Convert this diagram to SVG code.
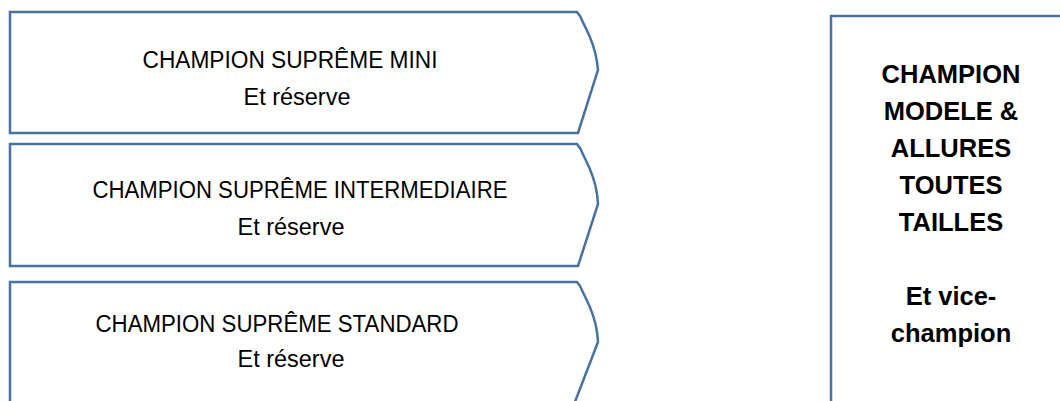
<svg xmlns="http://www.w3.org/2000/svg" width="1060" height="401" viewBox="0 0 1060 401">
<defs>
<style>
.shape{fill:#ffffff;stroke:#4a72a0;stroke-width:2.5;stroke-linejoin:miter}
.t{font-family:"Liberation Sans",Arial,sans-serif;font-size:23px;fill:#000;text-anchor:middle}
.b{font-family:"Liberation Sans",Arial,sans-serif;font-size:25.5px;font-weight:bold;fill:#000;text-anchor:middle}
</style>
</defs>
<rect width="1060" height="401" fill="#ffffff"/>
<g id="connectors"></g>
<g id="node-mini">
<path class="shape" d="M10,12 L577,12 C578,14 580,15 581,18 C585,28 594,40 597,62 L598,70 L578,133 L10,133 Z"/>
<text class="t" x="290" y="68" textLength="295" lengthAdjust="spacingAndGlyphs">CHAMPION SUPRÊME MINI</text>
<text class="t" x="297" y="105" textLength="107" lengthAdjust="spacingAndGlyphs">Et réserve</text>
</g>
<g id="node-intermediaire">
<path class="shape" d="M10,144 L577,144 C578,146 580,147 581,150 C585,160 594,172 597,194 L598,204 L578,266 L10,266 Z"/>
<text class="t" x="300" y="198" textLength="415" lengthAdjust="spacingAndGlyphs">CHAMPION SUPRÊME INTERMEDIAIRE</text>
<text class="t" x="291" y="235" textLength="107" lengthAdjust="spacingAndGlyphs">Et réserve</text>
</g>
<g id="node-standard">
<path class="shape" d="M10,420 L10,282 L577,282 C578,284 580,285 581,288 C585,298 594,310 597,332 L598,342 L568,420"/>
<text class="t" x="277" y="332" textLength="363" lengthAdjust="spacingAndGlyphs">CHAMPION SUPRÊME STANDARD</text>
<text class="t" x="291" y="367" textLength="107" lengthAdjust="spacingAndGlyphs">Et réserve</text>
</g>
<g id="node-champion">
<rect class="shape" x="831" y="16" width="260" height="420"/>
<text class="b" x="951" y="83">CHAMPION</text>
<text class="b" x="951" y="120">MODELE &amp;</text>
<text class="b" x="951" y="157">ALLURES</text>
<text class="b" x="951" y="194">TOUTES</text>
<text class="b" x="951" y="231">TAILLES</text>
<text class="b" x="951" y="305">Et vice-</text>
<text class="b" x="951" y="342">champion</text>
</g>
</svg>
